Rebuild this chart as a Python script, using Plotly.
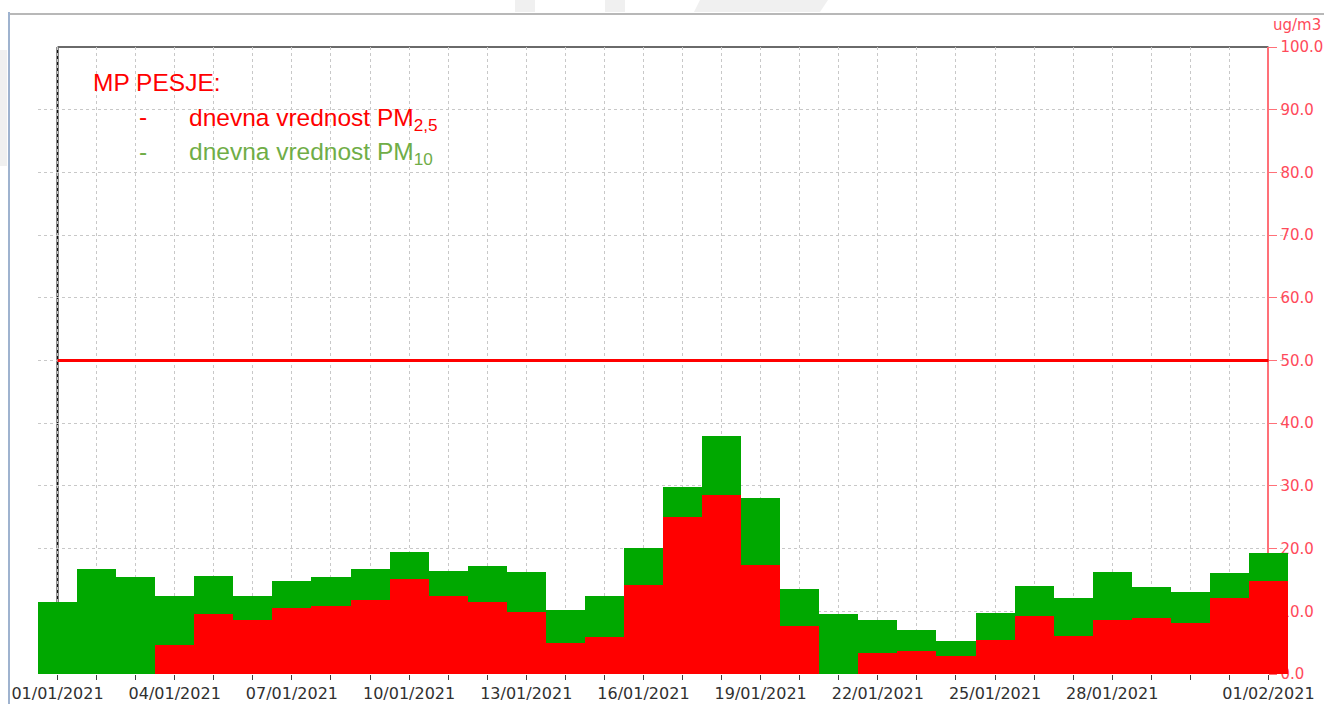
import plotly.graph_objects as go
import pandas as pd

# ---- data ----
dates = pd.date_range("2021-01-01", "2021-02-01", freq="D")
pm10 = [11.5, 16.7, 15.4, 12.4, 15.6, 12.4, 14.9, 15.4, 16.7, 19.5,
        16.5, 17.2, 16.3, 10.2, 12.4, 20.1, 29.9, 37.9, 28.1, 13.6,
        9.5, 8.6, 7.0, 5.3, 9.7, 14.0, 12.2, 16.3, 13.8, 13.1, 16.1, 19.3]
pm25 = [0.0, 0.0, 0.0, 4.7, 9.5, 8.6, 10.6, 10.8, 11.8, 15.2,
        12.4, 11.5, 9.9, 4.9, 5.9, 14.2, 25.0, 28.6, 17.4, 7.7,
        0.0, 3.3, 3.6, 2.9, 5.4, 9.3, 6.1, 8.6, 9.0, 8.1, 12.2, 14.9]
limit_value = 50
tick_dates = ["2021-01-01", "2021-01-04", "2021-01-07", "2021-01-10", "2021-01-13",
              "2021-01-16", "2021-01-19", "2021-01-22", "2021-01-25", "2021-01-28",
              "2021-02-01"]
tick_text = ["01/01/2021", "04/01/2021", "07/01/2021", "10/01/2021", "13/01/2021",
             "16/01/2021", "19/01/2021", "22/01/2021", "25/01/2021", "28/01/2021",
             "01/02/2021"]
y_ticks = [0, 10, 20, 30, 40, 50, 60, 70, 80, 90, 100]

DAY = 86400000
W, H = 1324, 704
L, R, T, B = 38, 1288, 47, 674


def px(x):
    return (x - L) / (R - L)


def py(y):
    return (B - y) / (B - T)


GREEN = "#00a800"
RED = "#ff0000"
AXRED = "#ff4a5a"
GRID = "#c8c8c8"

fig = go.Figure()
fig.add_trace(go.Bar(x=dates, y=pm10, width=DAY, marker_color=GREEN,
                     marker_line=dict(width=0), name="PM10"))
fig.add_trace(go.Bar(x=dates, y=pm25, width=DAY, marker_color=RED,
                     marker_line=dict(width=0), name="PM2,5"))

x0 = dates[0] - pd.Timedelta(hours=12)
x1 = dates[-1] + pd.Timedelta(hours=12)

fig.update_layout(
    width=W, height=H,
    margin=dict(l=L, r=W - R, t=T, b=H - B, pad=0, autoexpand=False),
    paper_bgcolor="white", plot_bgcolor="white",
    barmode="overlay", bargap=0, showlegend=False,
    font=dict(family="DejaVu Sans", size=16, color="#303030"),
    xaxis=dict(
        type="date", range=[x0, x1], automargin=False,
        tickvals=tick_dates, ticktext=tick_text,
        ticks="outside", ticklen=5, tickcolor="#404040", tickwidth=1,
        tickfont=dict(family="DejaVu Sans", size=16, color="#303030"),
        showgrid=True, gridcolor=GRID, griddash="dot", gridwidth=1,
        showline=False, zeroline=False, layer="below traces",
        minor=dict(dtick=DAY, tick0="2021-01-01", ticks="outside", ticklen=5,
                   tickcolor="#404040", showgrid=True, gridcolor=GRID,
                   griddash="dot", gridwidth=1),
    ),
    yaxis=dict(
        range=[0, 100], tickvals=y_ticks, tickformat=".1f", automargin=False,
        side="right", anchor="free",
        position=(dates[-1] - x0) / (x1 - x0),
        showline=True, linecolor="#ff7078", linewidth=2,
        ticks="outside", ticklen=8, tickcolor="#ff7078", tickwidth=1,
        tickfont=dict(family="DejaVu Sans", size=15, color=AXRED),
        showgrid=True, gridcolor=GRID, griddash="dot", gridwidth=1,
        zeroline=False, layer="below traces",
    ),
)

shapes = [
    # white masks outside the framed area (above gridlines, below bars)
    dict(type="rect", xref="x", yref="paper", x0=x0, x1=dates[0], y0=0, y1=1.001,
         fillcolor="white", line_width=0, layer="between"),
    dict(type="rect", xref="x", yref="paper", x0=dates[-1], x1=x1, y0=0, y1=1.001,
         fillcolor="white", line_width=0, layer="between"),
    # left frame line
    dict(type="line", xref="x", yref="paper", x0=dates[0], x1=dates[0], y0=0, y1=1,
         line=dict(color="#111111", width=2), layer="between"),
    # top frame line
    dict(type="line", xref="x", yref="paper", x0=dates[0], x1=dates[-1], y0=1, y1=1,
         line=dict(color="#6a6a6a", width=2), layer="between"),
    # limit line
    dict(type="line", xref="x", yref="y", x0=dates[0], x1=dates[-1],
         y0=limit_value, y1=limit_value, line=dict(color=RED, width=3), layer="above"),
    # outer window border
    dict(type="line", xref="paper", yref="paper", x0=px(9), x1=px(1324), y0=py(14), y1=py(14),
         line=dict(color="#b8b8b8", width=2)),
    dict(type="line", xref="paper", yref="paper", x0=px(9), x1=px(9), y0=py(12), y1=py(704),
         line=dict(color="#9fb3cf", width=2)),
    dict(type="rect", xref="paper", yref="paper", x0=px(0), x1=px(7), y0=py(50), y1=py(166),
         fillcolor="#f0f0f0", line_width=0),
    # faint background watermark at top
    dict(type="rect", xref="paper", yref="paper", x0=px(515), x1=px(535), y0=py(0), y1=py(12),
         fillcolor="#f0f0f0", line_width=0),
    dict(type="rect", xref="paper", yref="paper", x0=px(605), x1=px(625), y0=py(0), y1=py(12),
         fillcolor="#f0f0f0", line_width=0),
    dict(type="path", xref="paper", yref="paper",
         path=f"M {px(700)} {py(0)} L {px(828)} {py(0)} L {px(820)} {py(12)} L {px(694)} {py(12)} Z",
         fillcolor="#f0f0f0", line_width=0),
]
fig.update_layout(shapes=shapes)

LEG_FONT = "Liberation Sans, Arial"
LS = 24.5
annotations = [
    dict(text="MP PESJE:", x=px(91), y=py(83), xanchor="left", yanchor="middle",
         font=dict(family=LEG_FONT, size=LS, color=RED)),
    dict(text="-", x=px(143), y=py(117), xanchor="center", yanchor="middle",
         font=dict(family=LEG_FONT, size=LS, color=RED)),
    dict(text="dnevna vrednost PM<sub>2,5</sub>", x=px(187), y=py(120), xanchor="left",
         yanchor="middle", font=dict(family=LEG_FONT, size=LS, color=RED)),
    dict(text="-", x=px(143), y=py(151), xanchor="center", yanchor="middle",
         font=dict(family=LEG_FONT, size=LS, color="#70ad47")),
    dict(text="dnevna vrednost PM<sub>10</sub>", x=px(187), y=py(154), xanchor="left",
         yanchor="middle", font=dict(family=LEG_FONT, size=LS, color="#70ad47")),
    dict(text="ug/m3", x=px(1323), y=py(25), xanchor="right", yanchor="middle",
         font=dict(family="DejaVu Sans", size=15, color=AXRED)),
]
for a in annotations:
    a.update(xref="paper", yref="paper", showarrow=False)
fig.update_layout(annotations=annotations)

fig.write_html("out.html", config={"displayModeBar": False},
               post_script="document.body.style.margin='0px';document.body.style.padding='0px';")
